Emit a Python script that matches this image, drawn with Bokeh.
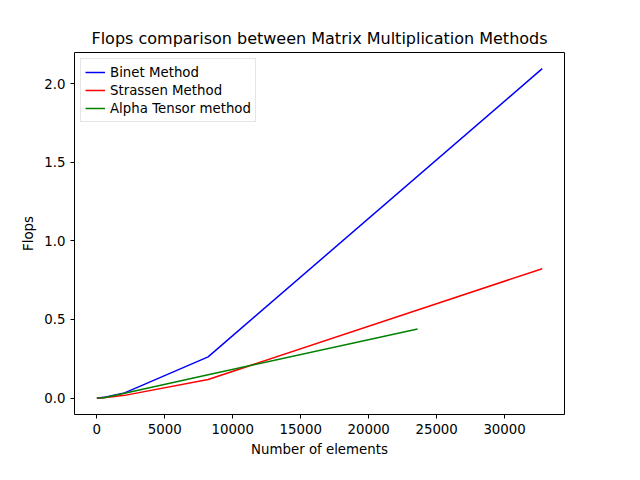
from bokeh.plotting import figure
from bokeh.models import Range1d, FixedTicker, CustomJSTickFormatter, Label
from bokeh.embed import file_html
from bokeh.resources import INLINE

binet_x = [8, 32, 128, 512, 2048, 8192, 32768]
binet_y = [8, 64, 512, 4096, 32768, 262144, 2097152]
strassen_x = [8, 32, 128, 512, 2048, 8192, 32768]
strassen_y = [7, 49, 343, 2401, 16807, 117649, 823543]
alpha_x = [8, 32, 512, 2048, 8192, 23600]
alpha_y = [7, 47, 2209, 30000, 148000, 440000]

p = figure(width=624, height=464, output_backend="svg", toolbar_location=None,
           title="Flops comparison between Matrix Multiplication Methods",
           x_axis_label="Number of elements", y_axis_label="Flops",
           min_border_left=74, min_border_right=60, min_border_top=52, min_border_bottom=50)
p.x_range = Range1d(-1638, 34406)
p.y_range = Range1d(-105000, 2200000)
p.title.align = "center"
p.title.text_font = "DejaVu Sans"
p.title.text_font_size = "12pt"
p.title.text_font_style = "normal"
p.title.text_color = "black"
p.grid.visible = False
p.outline_line_color = "black"
p.xaxis.ticker = FixedTicker(ticks=[0, 5000, 10000, 15000, 20000, 25000, 30000])
p.yaxis.ticker = FixedTicker(ticks=[0, 500000, 1000000, 1500000, 2000000])
p.yaxis.formatter = CustomJSTickFormatter(code="return (tick/1e6).toFixed(1);")
for ax in (p.xaxis, p.yaxis):
    ax.major_label_text_font = "DejaVu Sans"
    ax.major_label_text_font_size = "10pt"
    ax.major_label_text_color = "black"
    ax.axis_label_text_font = "DejaVu Sans"
    ax.axis_label_text_font_size = "10pt"
    ax.axis_label_text_font_style = "normal"
    ax.axis_label_text_color = "black"
    ax.minor_tick_line_color = None
    ax.major_tick_line_color = "black"
    ax.major_tick_in = 0
    ax.major_tick_out = 4
    ax.axis_line_color = None

p.line(binet_x, binet_y, line_color="blue", line_width=1.5, legend_label="Binet Method")
p.line(strassen_x, strassen_y, line_color="red", line_width=1.5, legend_label="Strassen Method")
p.line(alpha_x, alpha_y, line_color="green", line_width=1.5, legend_label="Alpha Tensor method")

p.add_layout(Label(x=-1638, y=2200000, text="1e6", text_color="black",
                   text_font="DejaVu Sans", text_font_size="10pt",
                   x_offset=0, y_offset=6, text_baseline="bottom"))

p.legend.location = "top_left"
p.legend.label_text_font = "DejaVu Sans"
p.legend.label_text_font_size = "10pt"
p.legend.label_text_color = "black"
p.legend.border_line_color = "#cccccc"
p.legend.spacing = 0
p.legend.padding = 4
p.legend.glyph_height = 18
p.legend.label_height = 18
p.legend.margin = 6

open("out.html", "w").write(file_html(p, INLINE))
